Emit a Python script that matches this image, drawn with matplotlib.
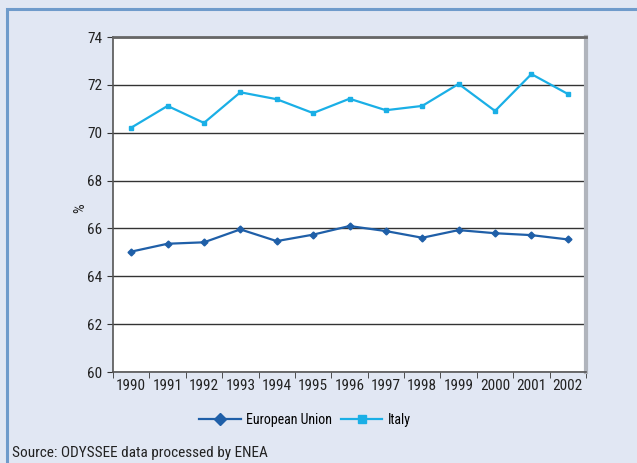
import matplotlib.pyplot as plt
from matplotlib.patches import Rectangle

# Data
years = ['1990', '1991', '1992', '1993', '1994', '1995', '1996',
         '1997', '1998', '1999', '2000', '2001', '2002']
eu = [65.03, 65.36, 65.42, 65.96, 65.47, 65.74, 66.10,
      65.89, 65.61, 65.93, 65.80, 65.72, 65.54]
italy = [70.21, 71.12, 70.41, 71.69, 71.40, 70.82, 71.42,
         70.94, 71.12, 72.04, 70.91, 72.45, 71.62]

plt.rcParams['font.family'] = ['Roboto Condensed', 'DejaVu Sans']

bg = '#E1E7F3'
fig = plt.figure(figsize=(6.37, 4.63), dpi=100)
fig.patch.set_facecolor(bg)

# outer frame (left and top edges visible)
fig.patches.append(Rectangle((7 / 637, -0.1), 1.2, 1 - 9 / 463 + 0.1,
                             transform=fig.transFigure, facecolor='none',
                             edgecolor='#6F9BCB', linewidth=2.2, zorder=0))

ax = fig.add_axes([113 / 637, 1 - 372 / 463, 473 / 637, 335 / 463])
ax.set_facecolor('white')
x = list(range(len(years)))
ax.plot(x, eu, color='#1F5FA8', linewidth=1.6, marker='D', markersize=3.5,
        label='European Union', zorder=3)
ax.plot(x, italy, color='#1AAFE6', linewidth=1.6, marker='s', markersize=3.5,
        label='Italy', zorder=3)

ax.set_xlim(-0.5, len(years) - 0.5)
ax.set_ylim(60, 74)
ax.set_yticks(range(60, 75, 2))
ax.set_xticks(x)
ax.set_xticklabels(years, fontsize=11, color='#222222')
ax.set_xticks([i - 0.5 for i in range(len(years) + 1)], minor=True)
ax.tick_params(axis='x', which='major', length=0, pad=5)
ax.tick_params(axis='x', which='minor', length=4, direction='out', color='#333333')
ax.tick_params(axis='y', length=4, direction='out', color='#333333',
               labelsize=11, labelcolor='#222222')
ax.grid(axis='y', color='#333333', linewidth=1.0, zorder=1)
ax.set_ylabel('%', fontsize=11, color='#222222')
ax.yaxis.set_label_coords(-0.055, 0.49)

for side in ['left', 'bottom']:
    ax.spines[side].set_color('#555555')
    ax.spines[side].set_linewidth(1.2)
ax.spines['top'].set_color('#666666')
ax.spines['top'].set_linewidth(2.0)
ax.spines['right'].set_color('#B0B4BC')
ax.spines['right'].set_linewidth(3.0)

leg = fig.legend(loc='center', bbox_to_anchor=(305 / 637, 1 - 420 / 463),
                 ncol=2, frameon=False, fontsize=10, handlelength=3.0,
                 columnspacing=0.6, handletextpad=0.4)
for h in leg.legend_handles:
    h.set_markersize(6)

fig.text(12 / 637, 1 - 453 / 463, 'Source: ODYSSEE data processed by ENEA',
         fontsize=11, va='center', ha='left', color='#222222')

fig.savefig('out.png', dpi=100, facecolor=bg)
